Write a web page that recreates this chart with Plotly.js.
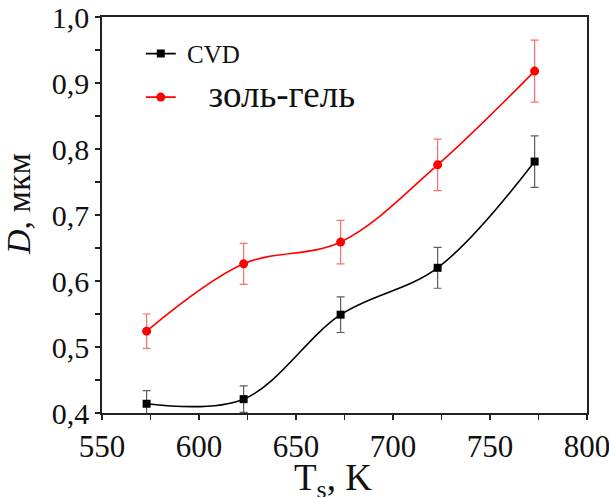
<!DOCTYPE html>
<html>
<head>
<meta charset="utf-8">
<script src="https://cdn.plot.ly/plotly-3.0.1.min.js"></script>
<style>
  html, body { margin: 0; padding: 0; background: #fff; }
  #chart { width: 609px; height: 497px; }
  /* keep every label of the figure in the Times-like serif face */
  #chart svg text, #chart svg tspan { font-family: 'Liberation Serif', serif !important; }
</style>
</head>
<body>
<div id="chart"></div>
<script>
// Substrate temperature, K
const temperature = [573, 623, 673, 723, 773];

// Grain size D (µm) with error bars, CVD films
const cvdValues = [0.414, 0.421, 0.549, 0.620, 0.781];
const cvdErrors = [0.020, 0.020, 0.027, 0.031, 0.039];

// Grain size D (µm) with error bars, sol-gel films
const solGelValues = [0.524, 0.626, 0.659, 0.776, 0.918];
const solGelErrors = [0.026, 0.031, 0.033, 0.039, 0.047];

// Axis ticks and their labels (decimal comma)
const xTicks = [550, 600, 650, 700, 750, 800];
const xTickLabels = ['550', '600', '650', '700', '750', '800'];
const yTicks = [0.4, 0.5, 0.6, 0.7, 0.8, 0.9, 1.0];
const yTickLabels = ['0,4', '0,5', '0,6', '0,7', '0,8', '0,9', '1,0'];

const serif = 'Liberation Serif';
const ink = '#111';

const traces = [
  {
    x: temperature, y: cvdValues,
    name: '\u00a0CVD',
    legendgroup: 'cvd',
    type: 'scatter', mode: 'lines+markers',
    line: { color: '#000', width: 1.6, shape: 'spline', smoothing: 1 },
    marker: { symbol: 'square', size: 8, color: '#000' },
    error_y: { type: 'data', array: cvdErrors, visible: true,
               color: 'rgba(40,40,40,0.75)', thickness: 1.2, width: 4 }
  },
  {
    x: temperature, y: solGelValues,
    name: '<span style="font-size:37px">\u00a0\u00a0\u00a0золь-гель</span>',
    legendgroup: 'solgel',
    type: 'scatter', mode: 'lines+markers',
    line: { color: '#ff0000', width: 1.6, shape: 'spline', smoothing: 1 },
    marker: { symbol: 'circle', size: 9, color: '#ff0000' },
    error_y: { type: 'data', array: solGelErrors, visible: true,
               color: 'rgba(255,60,60,0.75)', thickness: 1.2, width: 4 }
  }
];

const layout = {
  width: 609, height: 497,
  margin: { l: 102, r: 22, t: 17, b: 84 },
  paper_bgcolor: '#fff', plot_bgcolor: '#fff',
  font: { family: serif, color: ink, size: 20 },
  showlegend: true,
  legend: {
    x: 0.08, y: 0.965, xanchor: 'left', yanchor: 'top',
    bgcolor: 'rgba(0,0,0,0)',
    font: { family: serif, size: 25, color: ink },
    traceorder: 'grouped', tracegroupgap: 8
  },
  xaxis: {
    range: [550, 800],
    tickmode: 'array', tickvals: xTicks, ticktext: xTickLabels,
    ticklabeloverflow: 'allow',
    ticks: 'outside', ticklen: 5, tickwidth: 1.5, tickcolor: '#222',
    minor: { tickmode: 'linear', tick0: 550, dtick: 25, ticks: 'outside', ticklen: 5, tickwidth: 1.5, tickcolor: '#222' },
    showline: true, linecolor: '#222', linewidth: 1.7, mirror: true,
    showgrid: false, zeroline: false,
    tickfont: { family: serif, size: 31, color: ink }
  },
  yaxis: {
    range: [0.4, 1.0],
    tickmode: 'array', tickvals: yTicks, ticktext: yTickLabels,
    ticklabeloverflow: 'allow',
    ticks: 'outside', ticklen: 5, tickwidth: 1.5, tickcolor: '#222',
    minor: { tickmode: 'linear', tick0: 0.4, dtick: 0.05, ticks: 'outside', ticklen: 5, tickwidth: 1.5, tickcolor: '#222' },
    showline: true, linecolor: '#222', linewidth: 1.7, mirror: true,
    showgrid: false, zeroline: false,
    tickfont: { family: serif, size: 30, color: ink }
  },
  annotations: [
    { // x axis title
      text: 'T<sub>s</sub>, K', xref: 'paper', yref: 'paper',
      x: 0.477, y: -0.171, xanchor: 'center', yanchor: 'middle',
      showarrow: false, font: { family: serif, size: 37, color: ink }
    },
    { // y axis title
      text: '<i>D</i>, мкм', xref: 'paper', yref: 'paper',
      x: -0.171, y: 0.528, xanchor: 'center', yanchor: 'middle', textangle: -90,
      showarrow: false, font: { family: serif, size: 34, color: ink }
    }
  ]
};

Plotly.newPlot('chart', traces, layout, { displayModeBar: false, staticPlot: true });
</script>
</body>
</html>
